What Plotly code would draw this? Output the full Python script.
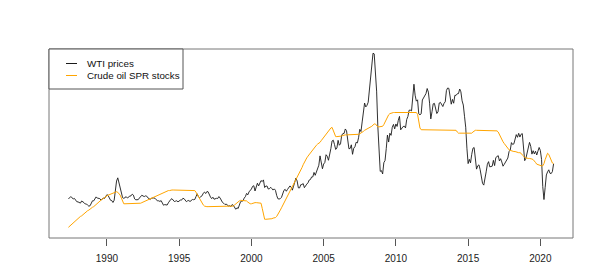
import plotly.graph_objects as go

# Monthly series, May 1987 .. Dec 2020
start_year = 1987
start_month = 5

wti_prices = [
    19.44, 20.07, 21.34, 20.31, 19.53, 19.86, 18.85, 17.28,  # 1987
    17.13, 16.80, 16.20, 17.86, 17.42, 16.53, 15.50, 15.52, 14.54, 13.77, 14.14, 16.38,
    18.02, 17.94, 19.48, 21.07, 20.12, 20.05, 19.78, 18.58, 19.59, 20.10, 19.86, 21.10,
    22.86, 22.11, 20.39, 18.43, 18.20, 16.70, 18.45, 27.31, 33.51, 36.04, 32.33, 27.28,
    25.23, 20.48, 19.90, 20.83, 21.23, 20.19, 21.40, 21.69, 21.89, 23.23, 22.46, 19.50,
    18.79, 19.01, 18.92, 20.23, 20.98, 22.39, 21.78, 21.34, 21.88, 21.69, 20.34, 19.41,
    19.03, 20.09, 20.32, 20.25, 19.95, 19.09, 17.89, 18.01, 17.50, 18.15, 16.61, 14.52,
    15.03, 14.78, 14.68, 16.42, 17.89, 19.06, 19.66, 18.38, 17.45, 17.72, 18.07, 17.16,
    18.04, 18.57, 18.54, 19.90, 19.74, 18.45, 17.33, 18.02, 18.23, 17.43, 17.99, 19.03,
    18.85, 19.09, 21.33, 23.50, 21.17, 20.42, 21.30, 21.90, 23.97, 24.88, 23.71, 25.23,
    25.13, 22.18, 20.97, 19.70, 20.82, 19.26, 19.66, 19.95, 19.80, 21.33, 20.19, 18.33,
    16.72, 16.06, 15.12, 15.35, 14.91, 13.72, 14.17, 13.47, 15.03, 14.46, 13.00, 11.35,
    12.52, 12.01, 14.68, 17.31, 17.72, 17.92, 20.10, 21.28, 23.80, 22.69, 25.00, 26.10,
    27.26, 29.37, 29.84, 25.72, 28.79, 31.82, 29.70, 31.26, 33.88, 33.11, 34.42, 28.44,
    29.59, 29.61, 27.25, 27.49, 28.63, 27.60, 26.43, 27.37, 26.20, 22.17, 19.64, 19.39,
    19.72, 20.72, 24.53, 26.18, 27.04, 25.52, 26.97, 28.39, 29.66, 28.84, 26.35, 29.46,
    32.95, 35.83, 33.51, 28.17, 28.11, 30.66, 30.75, 31.57, 28.31, 30.34, 31.11, 32.13,
    34.31, 34.69, 36.74, 36.75, 40.28, 38.03, 40.78, 44.90, 45.94, 53.28, 48.47, 43.15,
    46.84, 48.15, 54.19, 52.98, 49.83, 56.35, 58.99, 64.98, 65.59, 62.26, 58.32, 59.41,
    65.49, 61.63, 62.69, 69.44, 70.84, 70.95, 74.41, 73.04, 63.80, 58.89, 59.08, 61.96,
    54.51, 59.28, 60.44, 63.98, 63.46, 67.49, 74.12, 72.36, 79.92, 85.80, 94.77, 91.69,
    92.97, 95.39, 105.45, 112.58, 125.40, 133.88, 133.37, 116.67, 104.11, 76.61, 57.31, 41.12,
    41.71, 39.09, 47.94, 49.65, 59.03, 69.64, 64.15, 71.05, 69.41, 75.72, 77.99, 74.47,
    78.33, 76.39, 81.20, 84.29, 73.74, 75.34, 76.32, 76.60, 75.24, 81.89, 84.25, 89.15,
    89.17, 88.58, 102.86, 109.53, 100.90, 96.26, 97.30, 86.33, 85.52, 86.32, 97.16, 98.56,
    100.27, 102.20, 106.16, 103.32, 94.66, 82.30, 87.90, 94.13, 94.51, 89.49, 86.53, 87.86,
    94.76, 95.31, 92.94, 92.02, 94.51, 95.77, 104.67, 106.57, 106.29, 100.54, 93.86, 97.63,
    94.62, 100.82, 100.80, 102.07, 102.18, 105.79, 103.59, 96.54, 93.21, 84.40, 75.79, 59.29,
    47.22, 50.58, 47.82, 54.45, 59.27, 59.82, 50.90, 42.87, 45.48, 46.22, 42.44, 37.19,
    31.68, 30.32, 37.55, 40.75, 46.71, 48.76, 44.65, 44.72, 45.18, 49.78, 45.66, 51.97,
    52.50, 53.47, 49.33, 51.06, 48.48, 45.18, 46.63, 48.04, 49.82, 51.58, 56.64, 57.88,
    63.70, 62.23, 62.73, 66.25, 69.98, 67.87, 70.98, 68.06, 70.23, 70.75, 56.96, 49.52,
    51.38, 54.95, 58.15, 63.86, 60.83, 54.66, 57.35, 54.81, 56.95, 53.96, 57.03, 59.88,
    57.52, 50.54, 29.21, 19.00, 28.56, 38.31, 40.71, 42.34, 39.63, 39.40, 40.94, 47.02,
]

spr_stocks = [
    527, 529, 531, 533, 535, 537, 539, 541,  # 1987
    543, 544, 546, 547, 549, 551, 552, 554, 556, 557, 559, 560,
    562, 563, 565, 567, 569, 571, 572, 574, 576, 577, 579, 580,
    582, 583, 584, 585, 586, 587, 588, 589, 589, 588, 586, 583,
    578, 572, 568, 568, 568, 568, 568, 568, 568, 568, 568, 568,
    568, 568, 568, 568, 569, 570, 571, 572, 573, 574, 575, 576,
    577, 578, 579, 580, 581, 582, 583, 584, 585, 586, 587, 588,
    589, 590, 591, 591, 591, 592, 592, 592, 592, 592, 592, 592,
    592, 592, 592, 592, 592, 592, 592, 592, 592, 592, 592, 592,
    592, 591, 588, 584, 580, 576, 572, 569, 566, 564, 563, 563,
    563, 563, 563, 563, 563, 563, 563, 563, 563, 563, 563, 563,
    563, 563, 563, 563, 563, 563, 563, 563, 563, 564, 566, 568,
    570, 572, 573, 574, 574, 574, 574, 574, 573, 571, 569, 568,
    568, 569, 569, 570, 570, 570, 570, 570, 569, 560, 547, 541,
    541, 541, 541, 542, 542, 542, 543, 543, 544, 546, 549, 553,
    557, 561, 565, 569, 573, 577, 581, 585, 589, 593, 597, 601,
    605, 609, 613, 617, 621, 626, 631, 636, 641, 645, 648, 651,
    654, 657, 660, 663, 666, 668, 670, 672, 673, 675, 678, 681,
    684, 687, 690, 692, 695, 697, 700, 701, 696, 688, 685, 685,
    685, 685, 686, 686, 687, 688, 688, 688, 688, 688, 688, 688,
    688, 688, 688, 689, 689, 689, 690, 691, 692, 694, 696, 697,
    698, 700, 701, 702, 703, 705, 707, 707, 704, 702, 702, 702,
    702, 703, 706, 711, 716, 720, 723, 725, 726, 726, 727, 727,
    727, 727, 727, 727, 727, 727, 727, 727, 727, 727, 727, 727,
    727, 727, 727, 727, 727, 727, 724, 712, 700, 697, 697, 696,
    696, 696, 696, 696, 696, 696, 696, 696, 696, 696, 696, 696,
    696, 696, 696, 696, 696, 696, 696, 696, 696, 696, 696, 696,
    696, 696, 696, 693, 691, 691, 691, 691, 691, 691, 691, 691,
    691, 691, 691, 691, 693, 695, 696, 696, 696, 696, 696, 695,
    695, 695, 695, 695, 695, 695, 695, 695, 695, 695, 695, 695,
    695, 693, 688, 683, 679, 676, 673, 670, 667, 664, 662, 661,
    660, 659, 659, 659, 658, 658, 657, 657, 656, 653, 650, 649,
    648, 647, 647, 647, 647, 646, 645, 643, 640, 637, 636, 635,
    635, 634, 634, 638, 645, 652, 656, 654, 648, 642, 639, 638,
]

tick_years = [1990, 1995, 2000, 2005, 2010, 2015, 2020]
tick_labels = ["1990", "1995", "2000", "2005", "2010", "2015", "2020"]
legend_labels = ["WTI prices", "Crude oil SPR stocks"]
series_colors = ["#1a1a1a", "#FFA500"]

time_x = [start_year + (start_month - 1 + i) / 12 for i in range(len(wti_prices))]

# page body has an 8px margin; plot box in window pixels: x 49..573, y 49..238
OFF = 8
W, H = 598 - OFF, 276 - OFF
L, R, T, B = 49 - OFF, 25, 49 - OFF, 276 - 238
pw, ph = W - L - R, H - T - B


def px(x):
    return (x - OFF - L) / pw


def py(y):
    return (T + ph - (y - OFF)) / ph


fig = go.Figure()
fig.add_trace(go.Scatter(x=time_x, y=wti_prices, mode="lines", name=legend_labels[0],
                         line=dict(color=series_colors[0], width=0.9), yaxis="y"))
fig.add_trace(go.Scatter(x=time_x, y=spr_stocks, mode="lines", name=legend_labels[1],
                         line=dict(color=series_colors[1], width=1), yaxis="y2"))

font_family = "Liberation Sans, Arial, sans-serif"

fig.update_layout(
    width=W, height=H,
    margin=dict(l=L, r=R, t=T, b=B, pad=0),
    paper_bgcolor="white", plot_bgcolor="white",
    showlegend=False,
    font=dict(family=font_family, size=10, color="#222"),
    xaxis=dict(range=[1985.99, 2022.26], tickmode="array", tickvals=tick_years,
               ticktext=tick_labels, ticks="outside", ticklen=7, tickwidth=1,
               tickcolor="#555", showgrid=False, zeroline=False, showline=False,
               ticklabelstandoff=4,
               tickfont=dict(size=10, color="#222")),
    yaxis=dict(range=[-11.2, 137.2], visible=False, showgrid=False, zeroline=False),
    yaxis2=dict(range=[508.4, 837.6], overlaying="y", visible=False,
                showgrid=False, zeroline=False),
)

# plot frame
fig.add_shape(type="rect", xref="paper", yref="paper", x0=0, x1=1, y0=0, y1=1,
              line=dict(color="#777", width=1))

# legend box
fig.add_shape(type="rect", xref="paper", yref="paper", x0=px(49), x1=px(183),
              y0=py(89), y1=py(49), line=dict(color="#555", width=1),
              fillcolor="white", layer="above")
legend_y = [63.5, 75.5]
for lab, col, yy in zip(legend_labels, series_colors, legend_y):
    fig.add_shape(type="line", xref="paper", yref="paper", x0=px(66), x1=px(77),
                  y0=py(yy), y1=py(yy), line=dict(color=col, width=1))
    fig.add_annotation(xref="paper", yref="paper", x=px(85), y=py(yy), text=lab,
                       showarrow=False, xanchor="left", yanchor="middle",
                       font=dict(size=9.8, color="#111", family=font_family))

fig.write_html("out.html")
